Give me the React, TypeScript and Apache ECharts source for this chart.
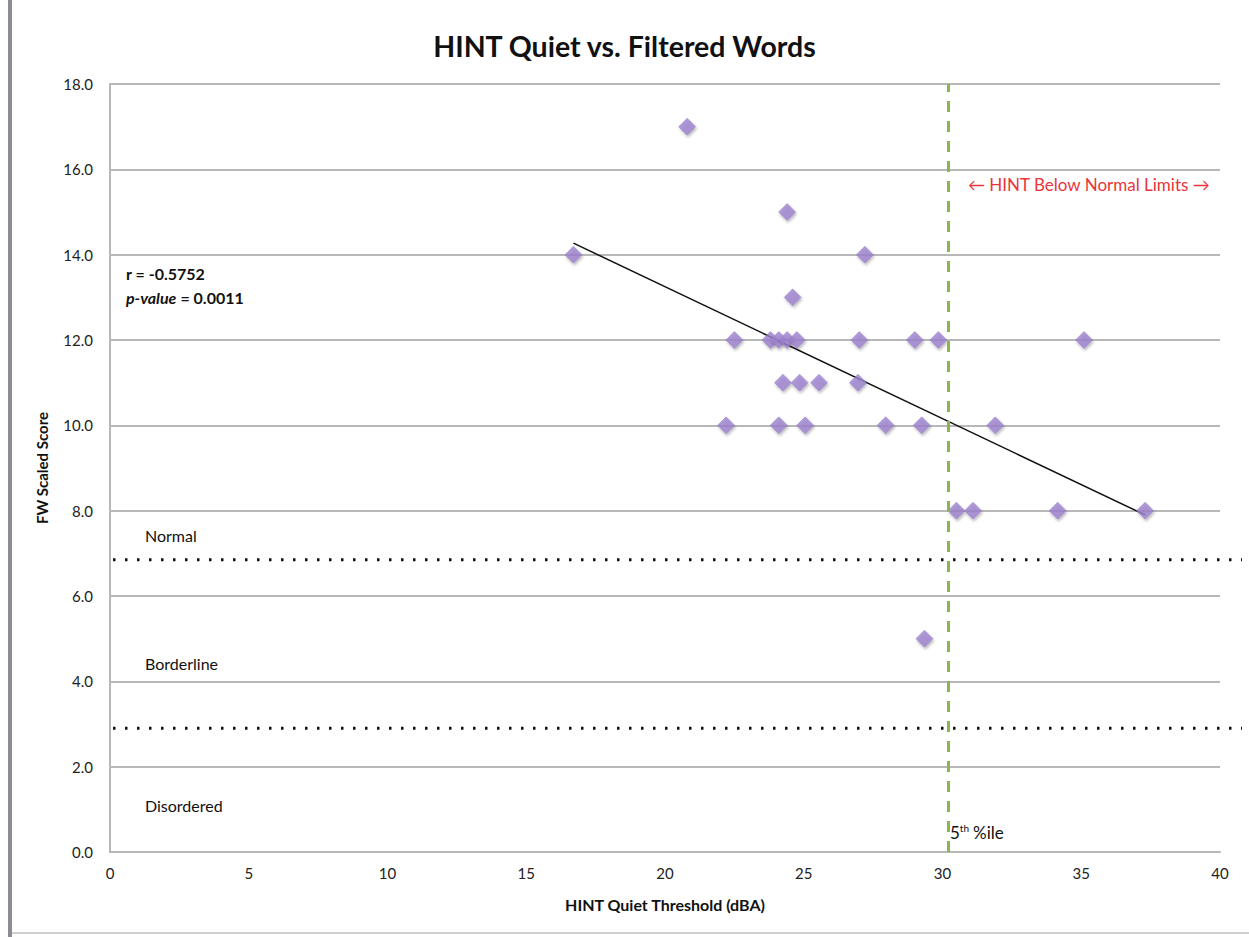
import React, { useEffect, useRef } from "react";
import * as echarts from "echarts";

const hintThreshold = [
  20.8, 24.4, 16.7, 27.2, 24.6,
  22.5, 23.8, 24.1, 24.4, 24.75, 27.0, 29.0, 29.85, 35.1,
  24.25, 24.85, 25.55, 26.95,
  22.2, 24.1, 25.05, 27.95, 29.25, 31.9,
  30.5, 31.1, 34.15, 37.3,
  29.35,
];
const fwScore = [
  17, 15, 14, 14, 13,
  12, 12, 12, 12, 12, 12, 12, 12, 12,
  11, 11, 11, 11,
  10, 10, 10, 10, 10, 10,
  8, 8, 8, 8,
  5,
];
const trendX = [16.7, 37.3];
const trendY = [14.27, 7.9];
const percentile5 = 30.2;
const normalCutoff = 6.85;
const borderlineCutoff = 2.9;
const xTicks = { min: 0, max: 40, interval: 5 };
const yTicks = { min: 0, max: 18, interval: 2 };

const FONT = "Lato, 'Open Sans', sans-serif";

export default function App() {
  const ref = useRef<HTMLDivElement>(null);
  useEffect(() => {
    document.body.style.margin = "0";
    const chart = echarts.init(ref.current!, null, { renderer: "svg" });
    const points = hintThreshold.map((x, i) => [x, fwScore[i]]);
    const trend = trendX.map((x, i) => [x, trendY[i]]);
    const textStyle = { fontFamily: FONT, fontSize: 16, fill: "#111", verticalAlign: "middle" as const };
    chart.setOption({
      animation: false,
      backgroundColor: "#fff",
      textStyle: { fontFamily: FONT },
      title: {
        text: "HINT Quiet vs. Filtered Words",
        left: "center",
        top: 26,
        textStyle: { fontFamily: FONT, fontSize: 28.5, fontWeight: "bold", color: "#111" },
      },
      grid: { left: 110, right: 29, top: 84, bottom: 85 },
      xAxis: {
        type: "value",
        ...xTicks,
        name: "HINT Quiet Threshold (dBA)",
        nameLocation: "middle",
        nameGap: 44,
        nameTextStyle: { fontFamily: FONT, fontSize: 16, fontWeight: "bold", color: "#111" },
        axisLine: { show: true, lineStyle: { color: "#b8b8b8", width: 2 } },
        axisTick: { show: false },
        splitLine: { show: false },
        axisLabel: { fontFamily: FONT, fontSize: 15, color: "#222", margin: 13 },
      },
      yAxis: {
        type: "value",
        ...yTicks,
        name: "FW Scaled Score",
        nameLocation: "middle",
        nameGap: 61,
        nameTextStyle: { fontFamily: FONT, fontSize: 15, fontWeight: "bold", color: "#111" },
        axisLine: { show: true, lineStyle: { color: "#b8b8b8", width: 2 } },
        axisTick: { show: false },
        splitLine: { show: true, lineStyle: { color: "#b8b8b8", width: 2 } },
        axisLabel: {
          fontFamily: FONT,
          fontSize: 15,
          color: "#222",
          margin: 17,
          formatter: (v: number) => v.toFixed(1),
        },
      },
      series: [
        {
          type: "line",
          data: trend,
          showSymbol: false,
          symbol: "none",
          lineStyle: { color: "#111", width: 1.5 },
          z: 3,
          markLine: {
            silent: true,
            symbol: "none",
            label: { show: false },
            lineStyle: { color: "#8cb54e", width: 3, type: [11, 9] },
            data: [{ xAxis: percentile5 }],
          },
        },
        {
          type: "scatter",
          data: points,
          symbol: "diamond",
          symbolSize: 17,
          itemStyle: {
            color: "#9d83cf",
            borderColor: "#8a6fc0",
            borderWidth: 0.5,
            shadowColor: "rgba(0,0,0,0.35)",
            shadowBlur: 3,
            shadowOffsetX: 1,
            shadowOffsetY: 2,
          },
          z: 4,
        },
      ],
    });

    const yN = chart.convertToPixel({ yAxisIndex: 0 }, normalCutoff) as number;
    const yB = chart.convertToPixel({ yAxisIndex: 0 }, borderlineCutoff) as number;
    const dotted = { stroke: "#111", lineWidth: 3, lineDash: [2.5, 9.5] };
    chart.setOption({
      graphic: [
        { type: "rect", shape: { x: 8, y: 0, width: 4, height: 937 }, style: { fill: "#8a8d93" } },
        { type: "rect", shape: { x: 12, y: 932, width: 1237, height: 2 }, style: { fill: "#d0d0d0" } },
        { type: "line", shape: { x1: 113, y1: yN, x2: 1242, y2: yN }, style: dotted, z: 2 },
        { type: "line", shape: { x1: 113, y1: yB, x2: 1242, y2: yB }, style: dotted, z: 2 },
        {
          type: "text", x: 126, y: 273,
          style: { ...textStyle, text: "r = -0.5752", fontWeight: "bold" },
        },
        {
          type: "text", x: 126, y: 297,
          style: {
            ...textStyle,
            text: "{bi|p-value} {b|= 0.0011}",
            rich: {
              bi: { fontFamily: FONT, fontSize: 16, fontWeight: "bold", fontStyle: "italic", fill: "#111" },
              b: { fontFamily: FONT, fontSize: 16, fontWeight: "bold", fill: "#111" },
            },
          },
        },
        { type: "text", x: 145, y: 535, style: { ...textStyle, text: "Normal" } },
        { type: "text", x: 145, y: 663, style: { ...textStyle, text: "Borderline" } },
        { type: "text", x: 145, y: 805, style: { ...textStyle, text: "Disordered" } },
        {
          type: "text", x: 950, y: 832,
          style: {
            ...textStyle,
            text: "{n|5}{s|th}{n|%ile}",
            rich: {
              n: { fontFamily: FONT, fontSize: 17, fill: "#111" },
              s: { fontFamily: FONT, fontSize: 10, fill: "#111", padding: [0, 4, 9, 0] },
            },
          },
        },
        {
          type: "text", x: 968, y: 184,
          style: { ...textStyle, text: "← HINT Below Normal Limits →", fill: "#e8353b", fontSize: 17 },
        },
      ],
    });
    return () => chart.dispose();
  }, []);
  return <div ref={ref} style={{ width: 1249, height: 937 }} />;
}
